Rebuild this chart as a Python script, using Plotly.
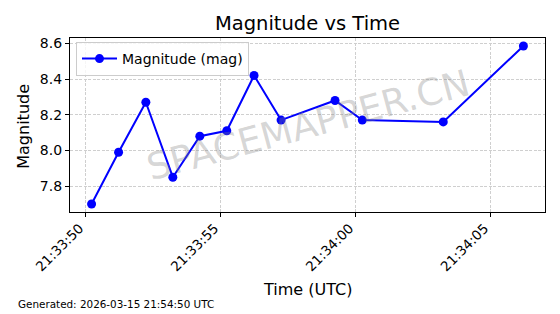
import plotly.graph_objects as go

# Data
times = [
    "2026-03-15 21:33:50.22", "2026-03-15 21:33:51.22", "2026-03-15 21:33:52.23",
    "2026-03-15 21:33:53.23", "2026-03-15 21:33:54.23", "2026-03-15 21:33:55.23",
    "2026-03-15 21:33:56.24", "2026-03-15 21:33:57.24", "2026-03-15 21:33:59.24",
    "2026-03-15 21:34:00.25", "2026-03-15 21:34:03.25", "2026-03-15 21:34:06.22",
]
magnitudes = [7.70, 7.99, 8.27, 7.85, 8.08, 8.11, 8.42, 8.17, 8.28, 8.17, 8.16, 8.585]

x_tick_vals = ["2026-03-15 21:33:50", "2026-03-15 21:33:55",
               "2026-03-15 21:34:00", "2026-03-15 21:34:05"]
x_tick_text = ["21:33:50", "21:33:55", "21:34:00", "21:34:05"]
y_tick_vals = [7.8, 8.0, 8.2, 8.4, 8.6]
y_tick_text = ["7.8", "8.0", "8.2", "8.4", "8.6"]

W, H = 560, 314
L, R, T, B = 70, 15, 38, 102
FONT = "DejaVu Sans"

fig = go.Figure()
fig.add_trace(go.Scatter(
    x=times, y=magnitudes, mode="lines+markers", name="Magnitude (mag)",
    line=dict(color="#0000ff", width=2),
    marker=dict(color="#0000ff", size=9),
))

grid = dict(showgrid=True, gridcolor="#cfcfcf", griddash="3px,1.5px", gridwidth=0.8,
            showline=True, linecolor="black", linewidth=1.2, mirror=True,
            ticks="outside", ticklen=4, tickcolor="black", zeroline=False)

fig.update_layout(
    width=W, height=H,
    margin=dict(l=L, r=R, t=T, b=B, autoexpand=False),
    paper_bgcolor="white", plot_bgcolor="white",
    font=dict(family=FONT, color="black", size=14),
    title=dict(text="Magnitude vs Time", x=0.5, xanchor="center",
               xref="paper", y=1 - 23.5 / H, yref="container", yanchor="middle",
               font=dict(size=19.5, family=FONT)),
    xaxis=dict(type="date", range=["2026-03-15 21:33:49.42", "2026-03-15 21:34:07.02"],
               tickmode="array", tickvals=x_tick_vals, ticktext=x_tick_text,
               tickangle=-45, tickfont=dict(size=13.5), ticklabelshift=-6,
               ticklabelstandoff=-2, **grid),
    yaxis=dict(range=[7.655, 8.63], tickmode="array", tickvals=y_tick_vals,
               ticktext=y_tick_text, tickfont=dict(size=14), **grid),
    legend=dict(x=(76 - L) / (W - L - R), y=1 - (42 - T) / (H - T - B),
                xanchor="left", yanchor="top", bgcolor="rgba(255,255,255,0.8)",
                bordercolor="#cccccc", borderwidth=1, itemwidth=35,
                font=dict(size=14, family=FONT)),
    showlegend=True,
)

# axis titles as annotations for exact placement
fig.add_annotation(text="Magnitude", xref="paper", yref="paper",
                   x=-(L - 24) / (W - L - R), y=0.49, xanchor="center", yanchor="middle",
                   textangle=-90, showarrow=False, font=dict(size=16, family=FONT))
fig.add_annotation(text="Time (UTC)", xref="paper", yref="paper",
                   x=0.5, y=-(289 - (H - B)) / (H - T - B), xanchor="center", yanchor="middle",
                   showarrow=False, font=dict(size=16, family=FONT))
# watermark
fig.add_annotation(text="SPACEMAPPER.CN", xref="paper", yref="paper", x=0.5, y=0.5,
                   xanchor="center", yanchor="middle", textangle=-15, showarrow=False,
                   font=dict(size=37, family=FONT, color="rgba(128,128,128,0.32)"))
# footer
fig.add_annotation(text="Generated: 2026-03-15 21:54:50 UTC", xref="paper", yref="paper",
                   x=-(L - 16) / (W - L - R), y=-(304 - (H - B)) / (H - T - B),
                   xanchor="left", yanchor="middle", showarrow=False,
                   font=dict(size=10.4, family=FONT))

fig.write_html("out.html")
